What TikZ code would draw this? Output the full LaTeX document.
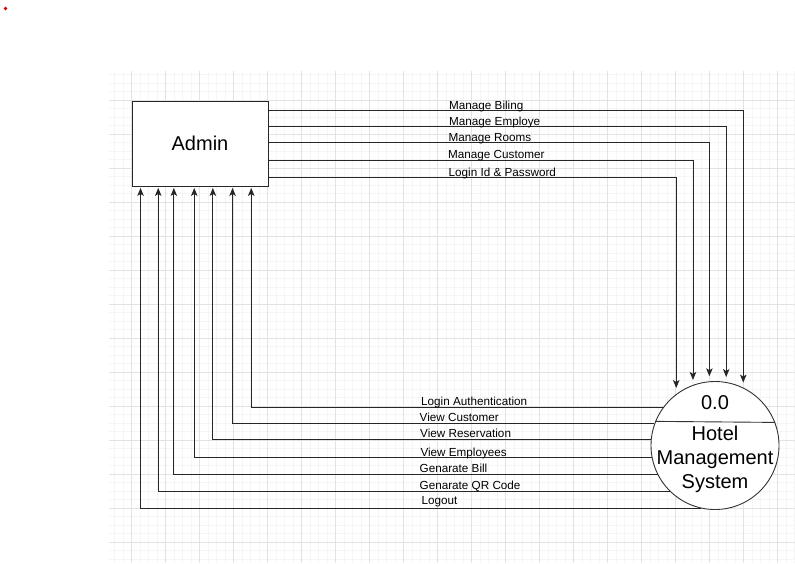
\documentclass[tikz,border=0pt]{standalone}
\usepackage{fontspec}
\setmainfont{Liberation Sans}
\usetikzlibrary{arrows.meta}

\begin{document}
\begin{tikzpicture}[x=1pt,y=-1pt]
      % Definimos algunos estilos
      \tikzstyle{entidad}=[
        draw=black!85,
        line width=0.9pt,
        minimum width=136pt,
        minimum height=85pt,
        inner sep=0pt,
        font=\fontsize{20}{24}\selectfont
      ]
      \tikzstyle{proceso}=[
        circle,
        draw=black!80,
        line width=0.9pt,
        minimum size=128pt,
        inner sep=0pt
      ]
      % flujo de datos
      \tikzstyle{flujo}=[draw=black!85, line width=0.9pt, -{Stealth[length=8pt,width=6.5pt,inset=2pt]}]
      \tikzstyle{etiqueta}=[anchor=base west, inner sep=0pt, font=\fontsize{11.7}{14}\selectfont]

      % fondo y cuadricula
      \useasboundingbox[fill=white] (0,0) rectangle (795,563);
      \fill[red!85!black] (5.5,8.5) circle (1.8);
      \foreach \x in {114.7,123.2,...,795} \draw[black!4, line width=0.6pt] (\x,71) -- (\x,563);
      \foreach \y in {74.5,83,...,563} \draw[black!4, line width=0.6pt] (109,\y) -- (795,\y);
      \foreach \x in {131.7,165.7,...,795} \draw[black!11, line width=0.6pt] (\x,71) -- (\x,563);
      \foreach \y in {100,134,...,563} \draw[black!11, line width=0.6pt] (109,\y) -- (795,\y);

      % Admin
      \node[entidad, fill=white] (admin) at (200,143.5) {Admin};

      % sistema 0.0
      \node[proceso, fill=white] (sys) at (715,445.5) {};
      \draw[black!80, line width=0.9pt] (sys.158.2) -- (sys.21.8);
      \node[font=\fontsize{20}{24}\selectfont] (num) at (715,402.5) {0.0};
      \node[align=center, font=\fontsize{20}{24}\selectfont] (nombre) at (715,459) {Hotel\\Management\\System};

      % flujos Admin -> sistema
      \draw[flujo, shorten >=5pt] ([yshift=-9.7pt]admin.north east) -| (sys.64.75);
      \draw[flujo, shorten >=5pt] ([yshift=-25.7pt]admin.north east) -| (sys.80.4);
      \draw[flujo, shorten >=5pt] ([yshift=-41.7pt]admin.north east) -| (sys.95.1);
      \draw[flujo, shorten >=5pt] ([yshift=-59.7pt]admin.north east) -| (sys.110.8);
      \draw[flujo, shorten >=6pt] ([yshift=-77.3pt]admin.north east) -| (sys.127.9);

      \node[etiqueta] (biling) at (449,109) {Manage Biling};
      \node[etiqueta] (employe) at (449,125) {Manage Employe};
      \node[etiqueta] (rooms) at (448.5,141.5) {Manage Rooms};
      \node[etiqueta] (customer) at (448,158.5) {Manage Customer};
      \node[etiqueta] (login) at (448.5,176.5) {Login Id \& Password};

      % flujos sistema -> Admin
      \draw[flujo, shorten >=1.5pt] (sys.144.1) -| ([xshift=119.7pt]admin.south west);
      \draw[flujo, shorten >=1.5pt] (sys.160.1) -| ([xshift=101pt]admin.south west);
      \draw[flujo, shorten >=1.5pt] (sys.175.3) -| ([xshift=81.3pt]admin.south west);
      \draw[flujo, shorten >=1.5pt] (sys.191.3) -| ([xshift=62.7pt]admin.south west);
      \draw[flujo, shorten >=1.5pt] (sys.207.1) -| ([xshift=42.3pt]admin.south west);
      \draw[flujo, shorten >=1.5pt] (sys.226.6) -| ([xshift=26.7pt]admin.south west);
      \draw[flujo, shorten >=1.5pt] (sys.257.6) -| ([xshift=9pt]admin.south west);

      \node[etiqueta] (auth) at (421,405) {Login Authentication};
      \node[etiqueta] (vcust) at (419.5,421.7) {View Customer};
      \node[etiqueta] (vres) at (420,437.7) {View Reservation};
      \node[etiqueta] (vemp) at (420.3,456.7) {View Employees};
      \node[etiqueta] (bill) at (419.5,472.7) {Genarate Bill};
      \node[etiqueta] (qr) at (419.5,489) {Genarate QR Code};
      \node[etiqueta] (logout) at (421.5,504.3) {Logout};
    \end{tikzpicture}
\end{document}
